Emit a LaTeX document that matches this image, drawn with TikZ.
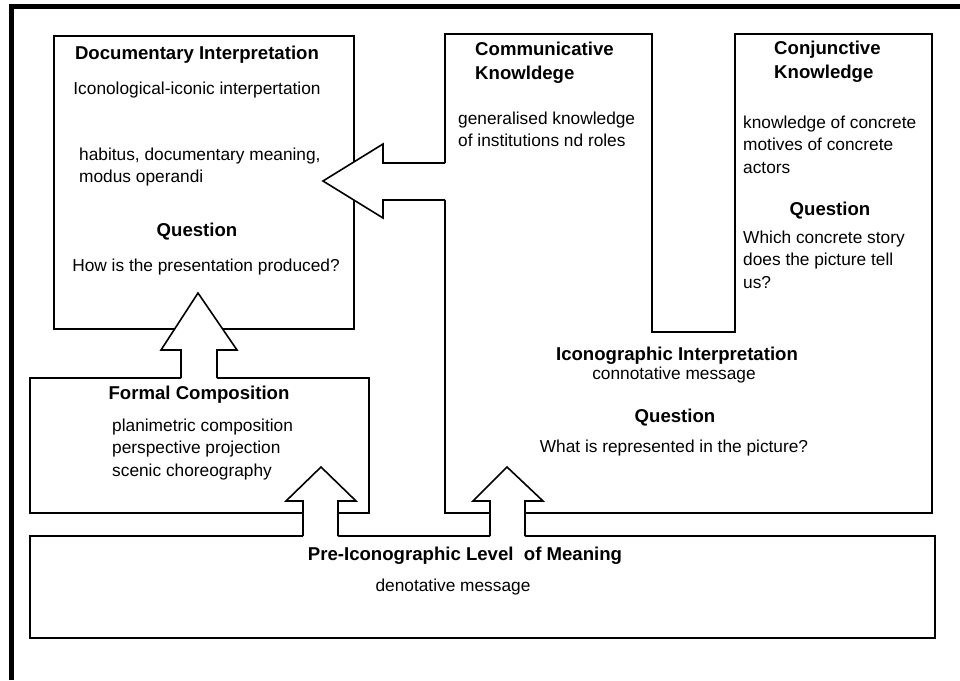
\documentclass[tikz,border=0pt]{standalone}
\usepackage{fontspec}
\setmainfont{Liberation Sans}
\usetikzlibrary{positioning}

\begin{document}
\begin{tikzpicture}[x=1pt,y=-1pt]

	\tikzset{
	box/.style={draw=black, line width=1.6pt},
	arrow line/.style={draw=black, line width=1.6pt, line join=miter},
	head/.style={font=\bfseries\fontsize{18.6}{24}\selectfont, inner sep=0pt, align=left},
	body/.style={font=\fontsize{17.3}{22.5}\selectfont, inner sep=0pt, align=left}
}

\useasboundingbox (0,0) rectangle (960,680);
\draw[line width=5pt] (11,680) -- (11,6) -- (960,6);

% boxes
\draw[box] (54,36) rectangle (354,329);
\draw[box] (30,378) rectangle (369,513);
\draw[box] (30,536) rectangle (935,638);
\draw[box] (445,34) -- (652,34) -- (652,332) -- (735,332) -- (735,34) -- (932,34) -- (932,513) -- (445,513) -- cycle;

% block arrows
\fill[white] (303,539) -- (303,501) -- (286,501) -- (321,467) -- (356,501) -- (338,501) -- (338,539) -- cycle;
\draw[arrow line] (303,536) -- (303,501) -- (286,501) -- (321,467) -- (356,501) -- (338,501) -- (338,536);
\fill[white] (490,539) -- (490,501) -- (473,501) -- (507,467) -- (543,501) -- (525,501) -- (525,539) -- cycle;
\draw[arrow line] (490,536) -- (490,501) -- (473,501) -- (507,467) -- (543,501) -- (525,501) -- (525,536);
\fill[white] (181,381) -- (181,350) -- (161,350) -- (198,293) -- (237,350) -- (217,350) -- (217,381) -- cycle;
\draw[arrow line] (181,378) -- (181,350) -- (161,350) -- (198,293) -- (237,350) -- (217,350) -- (217,378);
\fill[white] (448,163) -- (383,163) -- (383,144) -- (323,181) -- (383,218) -- (383,200) -- (448,200) -- cycle;
\draw[arrow line] (445,163) -- (383,163) -- (383,144) -- (323,181) -- (383,218) -- (383,200) -- (445,200);

% documentary interpretation
\node[head, anchor=base] (docTitle) at (197,59) {Documentary Interpretation};
\node[body, anchor=base] (docSub) at (197,94) {Iconological-iconic interpertation};
\node[body, anchor=north west] (docHabitus) at (79,147.5) {habitus, documentary meaning,\\modus operandi};
\node[head, anchor=base] (docQ) at (197,236) {Question};
\node[body, anchor=base] (docAsk) at (206,271) {How is the presentation produced?};

% communicative / conjunctive knowledge
\node[head, anchor=north west] (comTitle) at (475,41.7) {Communicative\\Knowldege};
\node[body, anchor=north west] (comText) at (458,111.5) {generalised knowledge\\of institutions nd roles};
\node[head, anchor=north west] (conTitle) at (774,40.7) {Conjunctive\\Knowledge};
\node[body, anchor=north west] (conText) at (743,115.5) {knowledge of concrete\\motives of concrete\\actors};
\node[head, anchor=base] (conQ) at (830,215) {Question};
\node[body, anchor=north west] (conAsk) at (743,230.5) {Which concrete story\\does the picture tell\\us?};

% iconographic interpretation
\node[head, anchor=base] (icoTitle) at (677,360) {Iconographic Interpretation};
\node[body, anchor=base] (icoSub) at (674,379) {connotative message};
\node[head, anchor=base] (icoQ) at (675,422) {Question};
\node[body, anchor=base] (icoAsk) at (674,452) {What is represented in the picture?};

% formal composition
\node[head, anchor=base] (formTitle) at (199,399) {Formal Composition};
\node[body, anchor=north west] (formText) at (112,418.5) {planimetric composition\\perspective projection\\scenic choreography};

% pre-iconographic level
\node[head, anchor=base] (preTitle) at (465,560) {Pre-Iconographic Level\ \ of Meaning};
\node[body, anchor=base] (preSub) at (453,591) {denotative message};

\end{tikzpicture}
\end{document}
